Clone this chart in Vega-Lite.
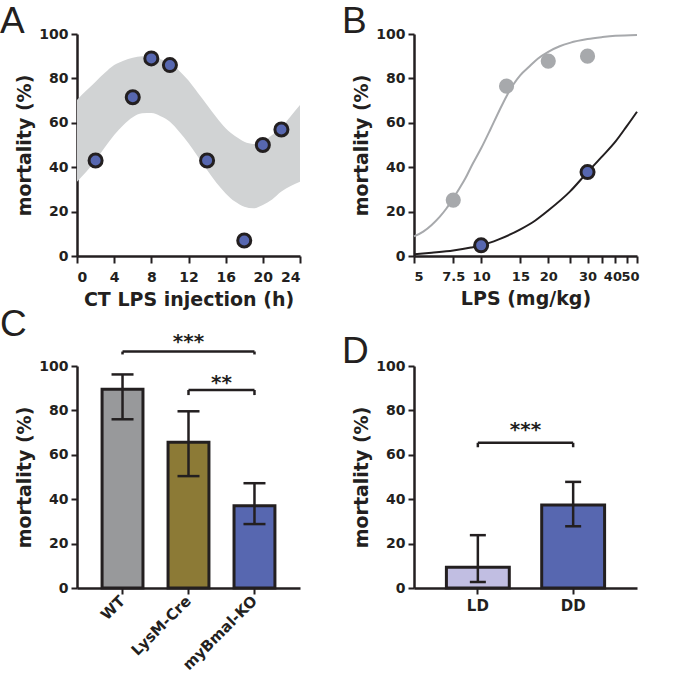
{
  "$schema": "https://vega.github.io/schema/vega-lite/v6.json",
  "padding": {"left": 0, "top": 3, "right": 0, "bottom": 0},
  "background": "white",
  "columns": 2,
  "spacing": {"row": 110, "column": 114},
  "bounds": "flush",
  "resolve": {"scale": {"color": "independent"}},
  "datasets": {
    "bandA": [
      {"ct": 0, "upper": 70.3, "lower": 33.5},
      {"ct": 1, "upper": 74.5, "lower": 38},
      {"ct": 2, "upper": 78.5, "lower": 43},
      {"ct": 3, "upper": 82.5, "lower": 49},
      {"ct": 4, "upper": 86, "lower": 54.5},
      {"ct": 5, "upper": 88, "lower": 59},
      {"ct": 6, "upper": 89.3, "lower": 62.5},
      {"ct": 7, "upper": 90, "lower": 64.3},
      {"ct": 8, "upper": 89.6, "lower": 64.4},
      {"ct": 9, "upper": 88.6, "lower": 63},
      {"ct": 10, "upper": 87, "lower": 60.5},
      {"ct": 11, "upper": 83.5, "lower": 56},
      {"ct": 12, "upper": 79, "lower": 50.8},
      {"ct": 13, "upper": 73.5, "lower": 44.8},
      {"ct": 14, "upper": 68, "lower": 38.7},
      {"ct": 15, "upper": 62.5, "lower": 33},
      {"ct": 16, "upper": 57.5, "lower": 28.2},
      {"ct": 17, "upper": 54, "lower": 24.5},
      {"ct": 18, "upper": 51.5, "lower": 22.2},
      {"ct": 19, "upper": 50.5, "lower": 21.5},
      {"ct": 20, "upper": 51.5, "lower": 23},
      {"ct": 21, "upper": 54.5, "lower": 25.5},
      {"ct": 22, "upper": 58, "lower": 29},
      {"ct": 23, "upper": 63, "lower": 31.5},
      {"ct": 24, "upper": 68, "lower": 33.5}
    ],
    "pointsA": [
      {"ct": 2, "mortality": 43},
      {"ct": 6, "mortality": 71.5},
      {"ct": 8, "mortality": 89},
      {"ct": 10, "mortality": 86},
      {"ct": 14, "mortality": 43},
      {"ct": 18, "mortality": 7},
      {"ct": 20, "mortality": 50},
      {"ct": 22, "mortality": 57}
    ],
    "curveB": [
      {"series": "gray", "dose": 5, "mortality": 8.8},
      {"series": "gray", "dose": 5.5, "mortality": 11},
      {"series": "gray", "dose": 6, "mortality": 14},
      {"series": "gray", "dose": 6.5, "mortality": 17.5},
      {"series": "gray", "dose": 7, "mortality": 21.5},
      {"series": "gray", "dose": 7.5, "mortality": 26},
      {"series": "gray", "dose": 8, "mortality": 30.5},
      {"series": "gray", "dose": 8.5, "mortality": 35},
      {"series": "gray", "dose": 9, "mortality": 40},
      {"series": "gray", "dose": 10, "mortality": 48.5},
      {"series": "gray", "dose": 11, "mortality": 57},
      {"series": "gray", "dose": 12, "mortality": 65},
      {"series": "gray", "dose": 13, "mortality": 72},
      {"series": "gray", "dose": 14, "mortality": 77.5},
      {"series": "gray", "dose": 15, "mortality": 81.5},
      {"series": "gray", "dose": 16.5, "mortality": 85.5},
      {"series": "gray", "dose": 18, "mortality": 89},
      {"series": "gray", "dose": 20, "mortality": 92},
      {"series": "gray", "dose": 22.5, "mortality": 94.5},
      {"series": "gray", "dose": 25, "mortality": 96},
      {"series": "gray", "dose": 30, "mortality": 97.7},
      {"series": "gray", "dose": 35, "mortality": 98.6},
      {"series": "gray", "dose": 40, "mortality": 99.2},
      {"series": "gray", "dose": 50, "mortality": 99.6},
      {"series": "black", "dose": 5, "mortality": 0.8},
      {"series": "black", "dose": 6, "mortality": 1.5},
      {"series": "black", "dose": 7.5, "mortality": 2.5},
      {"series": "black", "dose": 9, "mortality": 3.8},
      {"series": "black", "dose": 10, "mortality": 4.8},
      {"series": "black", "dose": 12, "mortality": 7.5},
      {"series": "black", "dose": 15, "mortality": 12},
      {"series": "black", "dose": 17.5, "mortality": 16},
      {"series": "black", "dose": 20, "mortality": 20.5},
      {"series": "black", "dose": 25, "mortality": 29},
      {"series": "black", "dose": 30, "mortality": 37.8},
      {"series": "black", "dose": 35, "mortality": 45},
      {"series": "black", "dose": 40, "mortality": 51.5},
      {"series": "black", "dose": 45, "mortality": 58.5},
      {"series": "black", "dose": 50, "mortality": 65}
    ],
    "pointsBgray": [
      {"dose": 7.5, "mortality": 25.2},
      {"dose": 13, "mortality": 76.5},
      {"dose": 20, "mortality": 87.8},
      {"dose": 30, "mortality": 90}
    ],
    "pointsBblue": [
      {"dose": 10, "mortality": 4.8},
      {"dose": 30, "mortality": 37.8}
    ],
    "barsC": [
      {"genotype": "WT", "mortality": 89.5, "low": 76, "high": 96.2},
      {"genotype": "LysM-Cre", "mortality": 65.7, "low": 50.4, "high": 79.6},
      {"genotype": "myBmal-KO", "mortality": 37.1, "low": 28.8, "high": 47.2}
    ],
    "sigC": [
      {"from": "WT", "to": "myBmal-KO", "y": 106.5, "yEnd": 105.2, "label": "***", "ytext": 110.7},
      {"from": "LysM-Cre", "to": "myBmal-KO", "y": 89.2, "yEnd": 86.9, "label": "**", "ytext": 92.5}
    ],
    "barsD": [
      {"condition": "LD", "mortality": 9.4, "low": 2.7, "high": 23.8},
      {"condition": "DD", "mortality": 37.4, "low": 27.8, "high": 47.8}
    ],
    "sigD": [
      {"from": "LD", "to": "DD", "y": 65.4, "yEnd": 63.4, "label": "***", "ytext": 71.3}
    ]
  },
  "concat": [
    {
      "width": 223,
      "height": 222,
      "title": {"text": "A", "dx": -77, "dy": 18},
      "layer": [
        {
          "data": {"name": "bandA"},
          "mark": {"type": "area", "interpolate": "monotone", "color": "#d1d3d4"},
          "encoding": {
            "x": {"field": "ct", "type": "quantitative", "title": "CT LPS injection (h)", "scale": {"domain": [0, 24], "nice": false},
                  "axis": {"values": [0, 4, 8, 12, 16, 20, 24], "labelOverlap": false, "tickSize": 7, "labelPadding": 7}},
            "y": {"field": "upper", "type": "quantitative", "title": "mortality (%)", "scale": {"domain": [0, 100], "nice": false}, "axis": {"values": [0, 20, 40, 60, 80, 100]}},
            "y2": {"field": "lower"}
          }
        },
        {
          "data": {"name": "pointsA"},
          "mark": {"type": "circle", "size": 170, "color": "#5767b0", "stroke": "#231f20", "strokeWidth": 3, "opacity": 1},
          "encoding": {
            "x": {"field": "ct", "type": "quantitative", "title": "CT LPS injection (h)",
                  "axis": {"values": [0, 4, 8, 12, 16, 20, 24], "labelOverlap": false, "tickSize": 7, "labelPadding": 7}},
            "y": {"field": "mortality", "type": "quantitative", "title": "mortality (%)"}
          }
        }
      ]
    },
    {
      "width": 223,
      "height": 222,
      "title": {"text": "B", "dx": -72, "dy": 18},
      "resolve": {"axis": {"x": "independent"}},
      "layer": [
        {
          "data": {"name": "curveB"},
          "mark": {"type": "line", "interpolate": "monotone", "strokeWidth": 2},
          "encoding": {
            "x": {"field": "dose", "type": "quantitative", "title": "LPS (mg/kg)", "scale": {"type": "log", "domain": [5, 50], "nice": false},
                  "axis": {"orient": "bottom", "values": [5, 7.5, 10, 15, 20, 30, 40, 50], "labelBound": false, "labelOverlap": false, "labelFontSize": 13, "tickSize": 7, "labelPadding": 7, "format": "~g",
                           "labelOffset": {"condition": [{"test": "datum.value == 40", "value": -3}, {"test": "datum.value == 50", "value": 2}], "value": 0}}},
            "y": {"field": "mortality", "type": "quantitative", "title": "mortality (%)", "scale": {"domain": [0, 100], "nice": false}, "axis": {"values": [0, 20, 40, 60, 80, 100]}},
            "color": {"field": "series", "type": "nominal", "scale": {"domain": ["gray", "black"], "range": ["#a7a9ac", "#231f20"]}, "legend": null},
            "detail": {"field": "series"}
          }
        },
        {
          "data": {"name": "pointsBgray"},
          "mark": {"type": "circle", "size": 230, "color": "#a7a9ac", "opacity": 1},
          "encoding": {
            "x": {"field": "dose", "type": "quantitative", "title": null,
                  "axis": {"orient": "bottom", "values": [25, 35, 45], "labels": false, "domain": false, "tickSize": 7, "title": null}},
            "y": {"field": "mortality", "type": "quantitative", "title": "mortality (%)"}
          }
        },
        {
          "data": {"name": "pointsBblue"},
          "mark": {"type": "circle", "size": 170, "color": "#5767b0", "stroke": "#231f20", "strokeWidth": 3, "opacity": 1},
          "encoding": {
            "x": {"field": "dose", "type": "quantitative", "title": null, "axis": null},
            "y": {"field": "mortality", "type": "quantitative", "title": "mortality (%)"}
          }
        }
      ]
    },
    {
      "width": 223,
      "height": 222,
      "title": {"text": "C", "dx": -77, "dy": 16},
      "layer": [
        {
          "data": {"name": "barsC"},
          "mark": {"type": "bar", "stroke": "#231f20", "strokeWidth": 3},
          "encoding": {
            "x": {"field": "genotype", "type": "nominal", "title": null,
                  "scale": {"domain": ["WT", "LysM-Cre", "myBmal-KO"], "paddingInner": 0.38, "paddingOuter": 0.38},
                  "axis": {"labelAngle": -45, "labelAlign": "right", "labelBaseline": "middle", "labelPadding": 4, "labelFontSize": 15}},
            "y": {"field": "mortality", "type": "quantitative", "title": "mortality (%)", "scale": {"domain": [0, 100], "nice": false}, "axis": {"values": [0, 20, 40, 60, 80, 100]}},
            "color": {"field": "genotype", "type": "nominal", "scale": {"domain": ["WT", "LysM-Cre", "myBmal-KO"], "range": ["#98999b", "#8c7a36", "#5767b0"]}, "legend": null}
          }
        },
        {
          "data": {"name": "barsC"},
          "mark": {"type": "rule", "color": "#231f20", "strokeWidth": 2.5},
          "encoding": {
            "x": {"field": "genotype", "type": "nominal", "bandPosition": 0.5},
            "y": {"field": "low", "type": "quantitative"},
            "y2": {"field": "high"}
          }
        },
        {
          "data": {"name": "barsC"},
          "mark": {"type": "tick", "orient": "horizontal", "size": 22, "thickness": 2.5, "color": "#231f20", "opacity": 1},
          "encoding": {
            "x": {"field": "genotype", "type": "nominal"},
            "y": {"field": "low", "type": "quantitative"}
          }
        },
        {
          "data": {"name": "barsC"},
          "mark": {"type": "tick", "orient": "horizontal", "size": 22, "thickness": 2.5, "color": "#231f20", "opacity": 1},
          "encoding": {
            "x": {"field": "genotype", "type": "nominal"},
            "y": {"field": "high", "type": "quantitative"}
          }
        },
        {
          "data": {"name": "sigC"},
          "mark": {"type": "rule", "color": "#231f20", "strokeWidth": 2.5},
          "encoding": {
            "x": {"field": "from", "type": "nominal", "bandPosition": 0.5},
            "x2": {"field": "to", "bandPosition": 0.5},
            "y": {"field": "y", "type": "quantitative"}
          }
        },
        {
          "data": {"name": "sigC"},
          "mark": {"type": "rule", "color": "#231f20", "strokeWidth": 2.5},
          "encoding": {
            "x": {"field": "from", "type": "nominal", "bandPosition": 0.5},
            "y": {"field": "y", "type": "quantitative"},
            "y2": {"field": "yEnd"}
          }
        },
        {
          "data": {"name": "sigC"},
          "mark": {"type": "rule", "color": "#231f20", "strokeWidth": 2.5},
          "encoding": {
            "x": {"field": "to", "type": "nominal", "bandPosition": 0.5},
            "y": {"field": "y", "type": "quantitative"},
            "y2": {"field": "yEnd"}
          }
        },
        {
          "data": {"name": "sigC"},
          "transform": [{"filter": "datum.label == '***'"}],
          "mark": {"type": "text", "font": "DejaVu Sans", "fontWeight": "bold", "fontSize": 20, "baseline": "middle", "align": "center", "color": "#231f20"},
          "encoding": {
            "x": {"field": "from", "type": "nominal", "bandPosition": 2.113},
            "y": {"field": "ytext", "type": "quantitative"},
            "text": {"field": "label"}
          }
        },
        {
          "data": {"name": "sigC"},
          "transform": [{"filter": "datum.label == '**'"}],
          "mark": {"type": "text", "font": "DejaVu Sans", "fontWeight": "bold", "fontSize": 20, "baseline": "middle", "align": "center", "color": "#231f20"},
          "encoding": {
            "x": {"field": "from", "type": "nominal", "bandPosition": 1.306},
            "y": {"field": "ytext", "type": "quantitative"},
            "text": {"field": "label"}
          }
        }
      ]
    },
    {
      "width": 223,
      "height": 222,
      "title": {"text": "D", "dx": -72, "dy": 16},
      "layer": [
        {
          "data": {"name": "barsD"},
          "mark": {"type": "bar", "stroke": "#231f20", "strokeWidth": 3},
          "encoding": {
            "x": {"field": "condition", "type": "nominal", "title": null,
                  "scale": {"domain": ["LD", "DD"], "paddingInner": 0.34, "paddingOuter": 0.34},
                  "axis": {"labelAngle": 0, "labelPadding": 4, "labelFontSize": 15}},
            "y": {"field": "mortality", "type": "quantitative", "title": "mortality (%)", "scale": {"domain": [0, 100], "nice": false}, "axis": {"values": [0, 20, 40, 60, 80, 100]}},
            "color": {"field": "condition", "type": "nominal", "scale": {"domain": ["LD", "DD"], "range": ["#c1bee2", "#5767b0"]}, "legend": null}
          }
        },
        {
          "data": {"name": "barsD"},
          "mark": {"type": "rule", "color": "#231f20", "strokeWidth": 2.5},
          "encoding": {
            "x": {"field": "condition", "type": "nominal", "bandPosition": 0.5},
            "y": {"field": "low", "type": "quantitative"},
            "y2": {"field": "high"}
          }
        },
        {
          "data": {"name": "barsD"},
          "mark": {"type": "tick", "orient": "horizontal", "size": 16, "thickness": 2.5, "color": "#231f20", "opacity": 1},
          "encoding": {
            "x": {"field": "condition", "type": "nominal"},
            "y": {"field": "low", "type": "quantitative"}
          }
        },
        {
          "data": {"name": "barsD"},
          "mark": {"type": "tick", "orient": "horizontal", "size": 16, "thickness": 2.5, "color": "#231f20", "opacity": 1},
          "encoding": {
            "x": {"field": "condition", "type": "nominal"},
            "y": {"field": "high", "type": "quantitative"}
          }
        },
        {
          "data": {"name": "sigD"},
          "mark": {"type": "rule", "color": "#231f20", "strokeWidth": 2.5},
          "encoding": {
            "x": {"field": "from", "type": "nominal", "bandPosition": 0.5},
            "x2": {"field": "to", "bandPosition": 0.5},
            "y": {"field": "y", "type": "quantitative"}
          }
        },
        {
          "data": {"name": "sigD"},
          "mark": {"type": "rule", "color": "#231f20", "strokeWidth": 2.5},
          "encoding": {
            "x": {"field": "from", "type": "nominal", "bandPosition": 0.5},
            "y": {"field": "y", "type": "quantitative"},
            "y2": {"field": "yEnd"}
          }
        },
        {
          "data": {"name": "sigD"},
          "mark": {"type": "rule", "color": "#231f20", "strokeWidth": 2.5},
          "encoding": {
            "x": {"field": "to", "type": "nominal", "bandPosition": 0.5},
            "y": {"field": "y", "type": "quantitative"},
            "y2": {"field": "yEnd"}
          }
        },
        {
          "data": {"name": "sigD"},
          "mark": {"type": "text", "font": "DejaVu Sans", "fontWeight": "bold", "fontSize": 20, "baseline": "middle", "align": "center", "color": "#231f20"},
          "encoding": {
            "x": {"field": "from", "type": "nominal", "bandPosition": 1.258},
            "y": {"field": "ytext", "type": "quantitative"},
            "text": {"field": "label"}
          }
        }
      ]
    }
  ],
  "config": {
    "view": {"stroke": null},
    "font": "DejaVu Sans",
    "axis": {
      "grid": false,
      "labelOverlap": false,
      "domainColor": "#231f20",
      "domainWidth": 2.5,
      "tickColor": "#231f20",
      "tickWidth": 2,
      "tickSize": 6,
      "labelFont": "DejaVu Sans",
      "labelFontWeight": "bold",
      "labelFontSize": 14,
      "labelColor": "#231f20",
      "labelPadding": 3,
      "titleFont": "DejaVu Sans",
      "titleFontWeight": "bold",
      "titleFontSize": 19,
      "titleColor": "#231f20",
      "titlePadding": 6
    },
    "axisY": {"titlePadding": 4},
    "title": {"font": "Liberation Sans", "fontSize": 37, "fontWeight": "normal", "color": "#231f20", "anchor": "start", "frame": "group", "offset": 0}
  }
}
